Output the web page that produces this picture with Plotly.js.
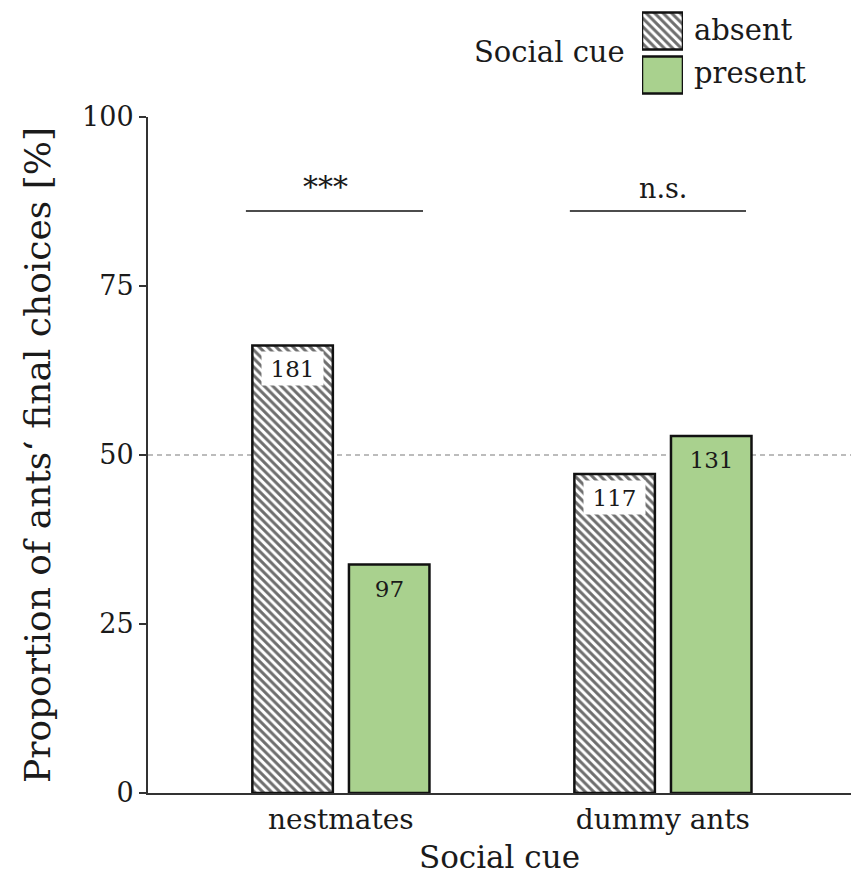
<!DOCTYPE html>
<html>
<head>
<meta charset="utf-8">
<script src="https://cdn.plot.ly/plotly-3.0.1.min.js"></script>
<style>html,body{margin:0;padding:0;background:#fff;}#chart{width:851px;height:877px;}</style>
</head>
<body>
<div id="chart"></div>
<script>
// ---- data ----
const categories = ['nestmates', 'dummy ants'];
const seriesNames = ['absent', 'present'];
const absentPct = [66.2, 47.2];
const presentPct = [33.8, 52.8];
const absentN = ['181', '117'];
const presentN = ['97', '131'];
const yTicks = [0, 25, 50, 75, 100];
const refLine = 50;
const sigLabels = ['***', 'n.s.'];
const sigY = 86.1;
const sigStart = [-0.295, 0.711];
const sigEnd = [0.255, 1.258];
const sigTextX = [-0.047, 1.0];
const legendTitle = 'Social cue';
const xTitle = 'Social cue';
const yTitle = 'Proportion of ants‘ final choices [%]';

// ---- styles ----
const FONT = 'DejaVu Serif, Liberation Serif, serif';
const TXT = '#1a1a1a';
const GREEN = '#a9d18e';
const HATCH = {shape: '\\', fgcolor: '#6e6e6e', bgcolor: '#ffffff', size: 6, solidity: 0.5};
const LINE = {color: '#111', width: 2.5};
const BW = 0.25, OFF_A = -0.275, OFF_P = 0.025;

const xs = categories.map((c, i) => i);

const traces = [
  {type: 'bar', x: xs, y: absentPct, width: BW, offset: OFF_A, name: seriesNames[0],
   marker: {color: '#ffffff', pattern: HATCH, line: LINE}, showlegend: false, hoverinfo: 'skip'},
  {type: 'bar', x: xs, y: presentPct, width: BW, offset: OFF_P, name: seriesNames[1],
   marker: {color: GREEN, line: LINE}, showlegend: false, hoverinfo: 'skip'},
  // legend swatches
  {type: 'bar', orientation: 'h', x: [1], y: [1], width: 0.84, xaxis: 'x2', yaxis: 'y2',
   marker: {color: '#ffffff', pattern: HATCH, line: LINE}, showlegend: false, hoverinfo: 'skip'},
  {type: 'bar', orientation: 'h', x: [1], y: [0], width: 0.84, xaxis: 'x2', yaxis: 'y2',
   marker: {color: GREEN, line: LINE}, showlegend: false, hoverinfo: 'skip'}
];

const annotations = [];
xs.forEach((x, i) => {
  annotations.push({x: x + OFF_A + BW / 2, y: absentPct[i], xref: 'x', yref: 'y', text: absentN[i],
    showarrow: false, yanchor: 'top', yshift: -6, bgcolor: '#ffffff', width: 55, height: 27, borderpad: 3,
    font: {family: FONT, size: 23, color: TXT}});
  annotations.push({x: x + OFF_P + BW / 2, y: presentPct[i], xref: 'x', yref: 'y', text: presentN[i],
    showarrow: false, yanchor: 'top', yshift: -6, width: 55, height: 27, borderpad: 3,
    font: {family: FONT, size: 23, color: TXT}});
  annotations.push({x: sigTextX[i], y: sigY, xref: 'x', yref: 'y', text: sigLabels[i], showarrow: false,
    yanchor: 'bottom', yshift: 5, font: {family: FONT, size: i === 0 ? 30 : 27, color: TXT}});
});
annotations.push({x: 0.6814, y: 0.9344, xref: 'paper', yref: 'paper', text: legendTitle, showarrow: false,
  xanchor: 'right', yanchor: 'middle', font: {family: FONT, size: 29, color: TXT}});
annotations.push({x: 0.7738, y: 0.9622, xref: 'paper', yref: 'paper', text: seriesNames[0], showarrow: false,
  xanchor: 'left', yanchor: 'middle', font: {family: FONT, size: 29, color: TXT}});
annotations.push({x: 0.7738, y: 0.9079, xref: 'paper', yref: 'paper', text: seriesNames[1], showarrow: false,
  xanchor: 'left', yanchor: 'middle', font: {family: FONT, size: 29, color: TXT}});

const shapes = [
  {type: 'line', xref: 'paper', yref: 'y', x0: 0, x1: 1, y0: refLine, y1: refLine, layer: 'below',
   line: {color: '#7a7a7a', width: 1.2, dash: '5px,4px'}}
];
sigLabels.forEach((s, i) => {
  shapes.push({type: 'line', xref: 'x', yref: 'y', x0: sigStart[i], x1: sigEnd[i], y0: sigY, y1: sigY,
    line: {color: '#111', width: 1.6}});
});

const layout = {
  width: 851, height: 877,
  margin: {l: 148, r: 0, t: 0, b: 84},
  paper_bgcolor: '#ffffff', plot_bgcolor: '#ffffff',
  font: {family: FONT, color: TXT},
  barmode: 'overlay',
  showlegend: false,
  xaxis: {range: [-0.599, 1.584], tickvals: xs, ticktext: categories, ticks: '', showgrid: false,
    zeroline: false, showline: true, linecolor: '#333', linewidth: 2,
    tickfont: {family: FONT, size: 28, color: TXT},
    title: {text: xTitle, font: {family: FONT, size: 31, color: TXT}, standoff: 12}},
  yaxis: {domain: [0, 0.85246], range: [0, 100], tickvals: yTicks, ticks: 'outside', ticklen: 7, tickwidth: 2,
    tickcolor: '#333', showgrid: false, zeroline: false, showline: true, linecolor: '#333', linewidth: 2,
    tickfont: {family: FONT, size: 27, color: TXT},
    title: {text: yTitle, font: {family: FONT, size: 36, color: TXT}, standoff: 20}},
  xaxis2: {domain: [0.7027, 0.761], range: [0, 1], anchor: 'y2', visible: false, fixedrange: true},
  yaxis2: {domain: [0.8777, 0.9887], range: [-0.5, 1.5], anchor: 'x2', visible: false, fixedrange: true},
  annotations: annotations,
  shapes: shapes
};

Plotly.newPlot('chart', traces, layout, {staticPlot: true, displayModeBar: false});
</script>
</body>
</html>
